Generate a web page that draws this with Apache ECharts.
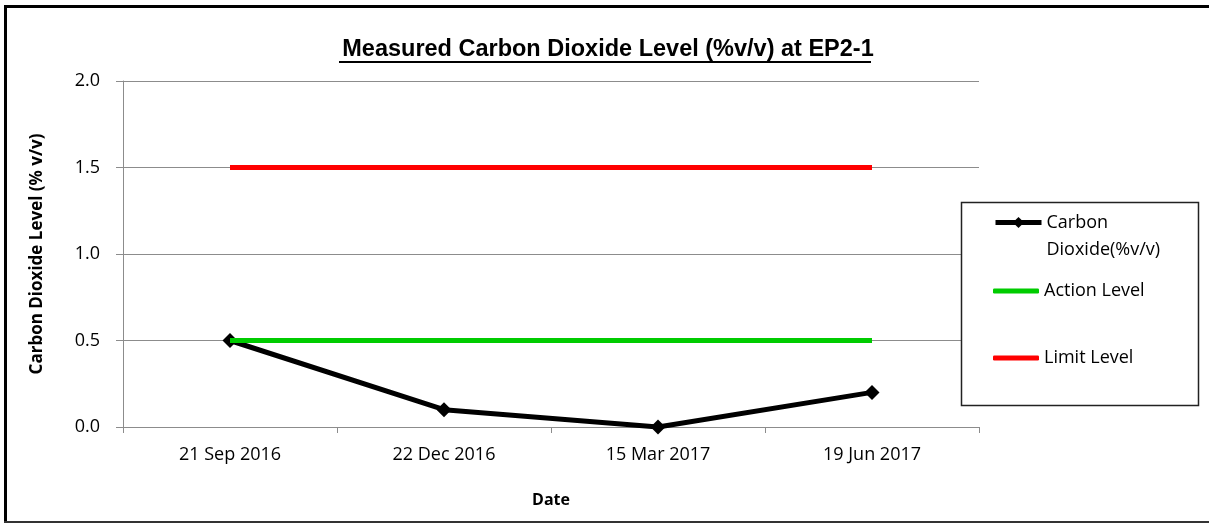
<!DOCTYPE html>
<html>
<head>
<meta charset="utf-8">
<script src="https://cdn.jsdelivr.net/npm/echarts@6/dist/echarts.min.js"></script>
<style>
html,body{margin:0;padding:0;background:#fff;overflow:hidden;}
#chart{width:1209px;height:524px;}
</style>
</head>
<body>
<div id="chart"></div>
<script>
const categories = ['21 Sep 2016', '22 Dec 2016', '15 Mar 2017', '19 Jun 2017'];
const co2Values = [0.5, 0.1, 0.0, 0.2];
const actionLevel = [0.5, 0.5, 0.5, 0.5];
const limitLevel = [1.5, 1.5, 1.5, 1.5];
const yTicks = [0, 0.5, 1.0, 1.5, 2.0];

const FONT = 'Open Sans';
const chart = echarts.init(document.getElementById('chart'), null, {renderer: 'canvas'});

function legendItem(item, top, extra) {
  return Object.assign({
    data: [item],
    left: 993,
    top: top,
    orient: 'vertical',
    padding: 0,
    itemWidth: 46,
    itemHeight: 14,
    itemGap: 0,
    selectedMode: false,
    lineStyle: {width: 5},
    textStyle: {fontFamily: FONT, fontSize: 18, color: '#000', lineHeight: 24}
  }, extra || {});
}

chart.setOption({
  animation: false,
  backgroundColor: '#fff',
  title: {
    text: 'Measured Carbon Dioxide Level (%v/v) at EP2-1',
    left: 603,
    textAlign: 'center',
    top: 33,
    textStyle: {fontFamily: 'Liberation Sans', fontWeight: 'bold', fontSize: 23.5, color: '#000'}
  },
  grid: {left: 123, right: 230, top: 81, bottom: 97},
  legend: [
    legendItem({name: 'Carbon Dioxide(%v/v)'}, 182, {
      formatter: function () { return '\u00a0\nCarbon\nDioxide(%v/v)'; },
      textStyle: {fontFamily: FONT, fontSize: 18, color: '#000', lineHeight: 27}
    }),
    legendItem({name: 'Action Level', icon: 'roundRect'}, 279, {itemHeight: 5}),
    legendItem({name: 'Limit Level', icon: 'roundRect'}, 346, {itemHeight: 5})
  ],
  xAxis: {
    type: 'category',
    data: categories,
    boundaryGap: true,
    name: 'Date',
    nameLocation: 'middle',
    nameGap: 65,
    nameTextStyle: {fontFamily: FONT, fontWeight: 'bold', fontSize: 16, color: '#000'},
    axisLine: {lineStyle: {color: '#8c8c8c', width: 1}},
    axisTick: {show: true, length: 6, inside: false, lineStyle: {color: '#8c8c8c'}},
    axisLabel: {fontFamily: FONT, fontSize: 18, color: '#000', margin: 19},
    splitLine: {show: false}
  },
  yAxis: {
    type: 'value',
    min: 0,
    max: 2,
    interval: 0.5,
    name: 'Carbon Dioxide Level (% v/v)',
    nameLocation: 'middle',
    nameGap: 77,
    nameTextStyle: {fontFamily: FONT, fontWeight: 'bold', fontSize: 17, color: '#000'},
    axisLine: {show: true, lineStyle: {color: '#8c8c8c', width: 1}},
    axisTick: {show: true, length: 7, inside: false, lineStyle: {color: '#8c8c8c'}},
    axisLabel: {fontFamily: FONT, fontSize: 18, color: '#000', margin: 23,
      formatter: function (v) { return yTicks.indexOf(v) >= 0 ? v.toFixed(1) : ''; }},
    splitLine: {show: true, lineStyle: {color: '#8c8c8c', width: 1}}
  },
  series: [
    {
      name: 'Carbon Dioxide(%v/v)',
      type: 'line',
      data: co2Values,
      symbol: 'diamond',
      symbolSize: 15,
      lineStyle: {color: '#000', width: 5},
      itemStyle: {color: '#000'},
      z: 3
    },
    {
      name: 'Action Level',
      type: 'line',
      data: actionLevel,
      symbol: 'none',
      lineStyle: {color: '#00cc00', width: 5},
      itemStyle: {color: '#00cc00'},
      z: 4
    },
    {
      name: 'Limit Level',
      type: 'line',
      data: limitLevel,
      symbol: 'none',
      lineStyle: {color: '#ff0000', width: 5},
      itemStyle: {color: '#ff0000'},
      z: 5
    }
  ],
  graphic: [
    {type: 'line', shape: {x1: 5.5, y1: 5, x2: 5.5, y2: 523}, style: {stroke: '#000', lineWidth: 3}, silent: true},
    {type: 'line', shape: {x1: 4, y1: 6.5, x2: 1209, y2: 6.5}, style: {stroke: '#000', lineWidth: 3}, silent: true},
    {type: 'line', shape: {x1: 4, y1: 522, x2: 1209, y2: 522}, style: {stroke: '#333', lineWidth: 2}, silent: true},
    {type: 'rect', shape: {x: 961.5, y: 202.5, width: 237, height: 203}, style: {fill: '#fff', stroke: '#222', lineWidth: 1.5}, silent: true, z: 1},
    {type: 'line', shape: {x1: 339, y1: 62, x2: 871, y2: 62}, style: {stroke: '#000', lineWidth: 2}, silent: true}
  ]
});
</script>
</body>
</html>
